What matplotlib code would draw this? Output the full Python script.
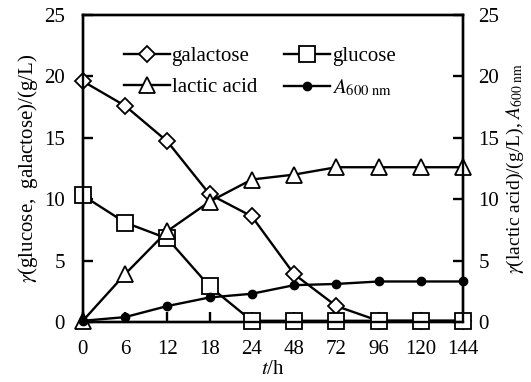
import numpy as np
import matplotlib
matplotlib.use('Agg')
import matplotlib.pyplot as plt

plt.rcParams['font.family'] = ['Liberation Serif', 'DejaVu Serif']
plt.rcParams['mathtext.fontset'] = 'stix'

t_labels = ['0', '6', '12', '18', '24', '48', '72', '96', '120', '144']
galactose = [19.6, 17.6, 14.7, 10.4, 8.6, 3.9, 1.3, 0.1, 0.1, 0.1]
glucose = [10.3, 8.1, 6.8, 2.9, 0.1, 0.1, 0.1, 0.1, 0.1, 0.1]
lactic = [0.1, 3.9, 7.4, 9.8, 11.6, 12.0, 12.6, 12.6, 12.6, 12.6]
a600 = [0.1, 0.4, 1.3, 2.0, 2.3, 3.0, 3.1, 3.3, 3.3, 3.3]

x = np.arange(len(t_labels))

fig = plt.figure(figsize=(5.31, 3.82), dpi=100)
ax = fig.add_axes([0.156, 0.157, 0.716, 0.804])
ax2 = ax.twinx()

lw = 1.7
ax.plot(x, galactose, color='k', lw=lw, marker='D', ms=8, mfc='white', mec='k', mew=1.3, label='galactose', zorder=3, clip_on=False)
ax.plot(x, glucose, color='k', lw=lw, marker='s', ms=11, mfc='white', mec='k', mew=1.3, label='glucose', zorder=3, clip_on=False)
ax2.plot(x, lactic, color='k', lw=lw, marker='^', ms=12, mfc='white', mec='k', mew=1.3, label='lactic acid', clip_on=False)
ax2.plot(x, a600, color='k', lw=lw, marker='o', ms=6, mfc='k', mec='k', label=r'$A_{600\ \rm nm}$', clip_on=False)

for a in (ax, ax2):
    a.set_ylim(0, 25)
    a.set_yticks([0, 5, 10, 15, 20, 25])
    a.set_xlim(0, 9)
    for s in a.spines.values():
        s.set_linewidth(1.7)

ax.set_xticks(x)
ax.set_xticklabels(t_labels)
ax.tick_params(axis='x', direction='in', length=7, width=1.7, labelsize=15, pad=13)
ax.tick_params(axis='y', direction='in', length=7, width=1.7, labelsize=15, pad=13)
ax2.tick_params(axis='y', direction='in', length=7, width=1.7, labelsize=15, pad=11)

ax.set_xlabel(r'$t$/h', fontsize=15, labelpad=1)
ax.set_ylabel(r'$\gamma$(glucose,  galactose)/(g/L)', fontsize=15, labelpad=3)
ax2.set_ylabel(r'$\gamma$(lactic acid)/(g/L), $A_{600\ \rm nm}$', fontsize=14, labelpad=4)

h1, l1 = ax.get_legend_handles_labels()
h2, l2 = ax2.get_legend_handles_labels()
# column-major fill: galactose / lactic acid in column 1, glucose / A600 in column 2
handles = [h1[0], h2[0], h1[1], h2[1]]
labels = [l1[0], l2[0], l1[1], l2[1]]
ax.legend(handles, labels, ncol=2, loc='upper left', bbox_to_anchor=(0.08, 0.93),
          frameon=False, fontsize=15, handlelength=2.2, handletextpad=0.1,
          columnspacing=1.3, labelspacing=0.55, borderpad=0)

fig.savefig('out.png', dpi=100)
